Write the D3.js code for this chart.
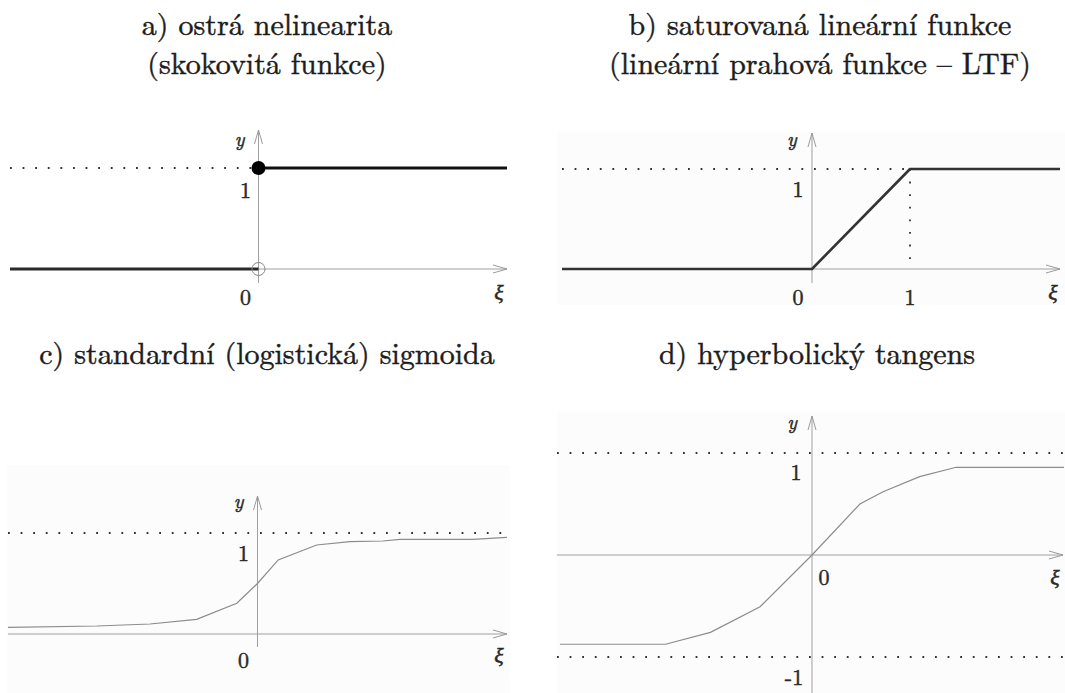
<!DOCTYPE html>
<html>
<head>
<meta charset="utf-8">
<script src="https://cdn.jsdelivr.net/npm/d3@7"></script>
<style>
  html, body { margin: 0; padding: 0; background: #fff; }
  svg { display: block; }
</style>
</head>
<body>
<svg id="chart" width="1065" height="693"></svg>
<script>
// Panel titles
const titles = [
  ["a) ostrá nelinearita", "(skokovitá funkce)"],
  ["b) saturovaná lineární funkce", "(lineární prahová funkce – LTF)"],
  ["c) standardní (logistická) sigmoida"],
  ["d) hyperbolický tangens"]
];

// a) step function: two branches plus the endpoint markers
const stepLow  = [[-10, 0], [0, 0]];
const stepHigh = [[0, 1], [10, 1]];
const stepFilled = [0, 1];
const stepOpen   = [0, 0];

// b) saturated linear function
const ltfPoints = [[-2.55, 0], [0, 0], [1, 1], [2.53, 1]];

// c) logistic sigmoid (sampled)
const sigmoidX = [-10, -6.44, -4.31, -2.44, -0.83, 0, 0.83, 2.37, 3.71, 5.03, 5.71, 8.64, 10];
const sigmoidY = [0.066, 0.079, 0.099, 0.145, 0.304, 0.5, 0.733, 0.881, 0.914, 0.921, 0.937, 0.937, 0.957];

// d) hyperbolic tangent (sampled)
const tanhX = [-10, -5.81, -4.03, -2.06, 0, 1.9, 2.82, 4.27, 5.72, 10];
const tanhY = [-0.875, -0.875, -0.758, -0.507, 0, 0.5, 0.62, 0.768, 0.86, 0.86];

// Tick labels per panel
const ticksA = { x: ["0"], y: ["1"] };
const ticksB = { x: ["0", "1"], y: ["1"] };
const ticksC = { x: ["0"], y: ["1"] };
const ticksD = { x: ["0"], y: ["1", "-1"] };

const SERIF = "Latin Modern Roman";
const svg = d3.select("#chart");

function arrowRight(g, x, y) {
  g.append("path").attr("d", `M${x - 14},${y - 4} L${x},${y} L${x - 14},${y + 4}`)
    .attr("fill", "none").attr("stroke", "#9a9a9a").attr("stroke-width", 1);
}
function arrowUp(g, x, y) {
  g.append("path").attr("d", `M${x - 4},${y + 14} L${x},${y} L${x + 4},${y + 14}`)
    .attr("fill", "none").attr("stroke", "#9a9a9a").attr("stroke-width", 1);
}
function axes(g, sx, sy, xr, yr) {
  g.append("line").attr("x1", xr[0]).attr("x2", xr[1]).attr("y1", sy(0)).attr("y2", sy(0))
    .attr("stroke", "#a0a0a0").attr("stroke-width", 1);
  arrowRight(g, xr[1], sy(0));
  g.append("line").attr("x1", sx(0)).attr("x2", sx(0)).attr("y1", yr[0]).attr("y2", yr[1])
    .attr("stroke", "#a0a0a0").attr("stroke-width", 1);
  arrowUp(g, sx(0), yr[1]);
}
function dotted(g, x1, x2, y1, y2) {
  g.append("line").attr("x1", x1).attr("x2", x2).attr("y1", y1).attr("y2", y2)
    .attr("stroke", "#333").attr("stroke-width", 1.8)
    .attr("stroke-dasharray", "1.8 10.8");
}
function text(g, x, y, s, size, italic, anchor) {
  g.append("text").attr("x", x).attr("y", y)
    .attr("font-family", SERIF).attr("fill", "#2a2a2a")
    .attr("stroke", "#2a2a2a").attr("stroke-width", 0.5)
    .attr("font-size", size).attr("font-style", italic ? "italic" : "normal")
    .attr("text-anchor", anchor || "middle").text(s);
}
// A title is one text element; a second line is a tspan below the first
function title(lines, cx, y, gap) {
  const t = svg.append("text")
    .attr("x", cx).attr("y", y)
    .attr("font-family", SERIF).attr("font-size", 30).attr("fill", "#1c1c1c")
    .attr("stroke", "#1c1c1c").attr("stroke-width", 0.45)
    .attr("text-anchor", "middle");
  lines.forEach((s, i) => t.append("tspan").attr("x", cx).attr("dy", i === 0 ? 0 : gap).text(s));
}

const bg = "#fcfcfc";

// ---------- a) ----------
{
  const g = svg.append("g");
  const sx = d3.scaleLinear().domain([-10, 10]).range([10, 507]);
  const sy = d3.scaleLinear().domain([0, 1]).range([269, 168]);
  title(titles[0], 267, 35, 39);
  dotted(g, 10, sx(0), sy(1), sy(1));
  axes(g, sx, sy, [sx(0), 507], [283, 130]);
  const line = d3.line().x(d => sx(d[0])).y(d => sy(d[1]));
  g.append("path").attr("d", line(stepLow)).attr("fill", "none").attr("stroke", "#2a2a2a").attr("stroke-width", 3);
  g.append("path").attr("d", line(stepHigh)).attr("fill", "none").attr("stroke", "#111").attr("stroke-width", 3);
  g.append("circle").attr("cx", sx(stepFilled[0])).attr("cy", sy(stepFilled[1])).attr("r", 7).attr("fill", "#000");
  g.append("circle").attr("cx", sx(stepOpen[0])).attr("cy", sy(stepOpen[1])).attr("r", 6.5)
    .attr("fill", "none").attr("stroke", "#888").attr("stroke-width", 1);
  text(g, sx(0) - 19, 146, "y", 20, true);
  text(g, sx(0) - 13, sy(1) + 30, ticksA.y[0], 22, false);
  text(g, sx(0) - 13, 305, ticksA.x[0], 22, false);
  text(g, 499, 300, "ξ", 22, true);
}

// ---------- b) ----------
{
  const g = svg.append("g");
  const sx = d3.scaleLinear().domain([-2.55, 2.53]).range([562, 1060]);
  const sy = d3.scaleLinear().domain([0, 1]).range([269, 169]);
  title(titles[1], 820, 35, 39);
  g.append("rect").attr("x", 557).attr("y", 132).attr("width", 508).attr("height", 173).attr("fill", bg);
  dotted(g, 562, 1060, sy(1), sy(1));
  dotted(g, sx(1), sx(1), sy(1), sy(0));
  axes(g, sx, sy, [562, 1060], [283, 133]);
  const line = d3.line().x(d => sx(d[0])).y(d => sy(d[1]));
  g.append("path").attr("d", line(ltfPoints)).attr("fill", "none").attr("stroke", "#333")
    .attr("stroke-width", 2.6).attr("stroke-linejoin", "round");
  text(g, sx(0) - 20, 146, "y", 20, true);
  text(g, sx(0) - 14, sy(1) + 28, ticksB.y[0], 22, false);
  text(g, sx(0) - 14, 305, ticksB.x[0], 22, false);
  text(g, sx(1), 305, ticksB.x[1], 22, false);
  text(g, 1053, 300, "ξ", 22, true);
}

// ---------- c) ----------
{
  const g = svg.append("g");
  const sx = d3.scaleLinear().domain([-10, 10]).range([8, 507]);
  const sy = d3.scaleLinear().domain([0, 1]).range([634, 533]);
  title(titles[2], 267, 364, 0);
  g.append("rect").attr("x", 7).attr("y", 465).attr("width", 503).attr("height", 228).attr("fill", bg);
  dotted(g, 8, 507, sy(1), sy(1));
  axes(g, sx, sy, [8, 507], [647, 496]);
  const pts = sigmoidX.map((x, i) => [x, sigmoidY[i]]);
  const line = d3.line().x(d => sx(d[0])).y(d => sy(d[1]));
  g.append("path").attr("d", line(pts)).attr("fill", "none").attr("stroke", "#8c8c8c").attr("stroke-width", 1.2);
  text(g, sx(0) - 19, 508, "y", 20, true);
  text(g, sx(0) - 14, sy(1) + 28, ticksC.y[0], 22, false);
  text(g, sx(0) - 14, 668, ticksC.x[0], 22, false);
  text(g, 499, 663, "ξ", 22, true);
}

// ---------- d) ----------
{
  const g = svg.append("g");
  const sx = d3.scaleLinear().domain([-10, 10]).range([560, 1064]);
  const sy = d3.scaleLinear().domain([-1, 1]).range([657, 453]);
  title(titles[3], 817, 364, 0);
  g.append("rect").attr("x", 557).attr("y", 412).attr("width", 508).attr("height", 281).attr("fill", bg);
  dotted(g, 557, 1063, sy(1), sy(1));
  dotted(g, 557, 1063, sy(-1), sy(-1));
  axes(g, sx, sy, [557, 1063], [693, 416]);
  const pts = tanhX.map((x, i) => [x, tanhY[i]]);
  const line = d3.line().x(d => sx(d[0])).y(d => sy(d[1]));
  g.append("path").attr("d", line(pts)).attr("fill", "none").attr("stroke", "#8c8c8c").attr("stroke-width", 1.2);
  text(g, sx(0) - 20, 429, "y", 20, true);
  text(g, sx(0) - 16, sy(1) + 27, ticksD.y[0], 22, false);
  text(g, sx(0) + 12, 585, ticksD.x[0], 22, false);
  text(g, sx(0) - 18, 685, ticksD.y[1], 22, false);
  text(g, 1055, 585, "ξ", 22, true);
}
</script>
</body>
</html>
